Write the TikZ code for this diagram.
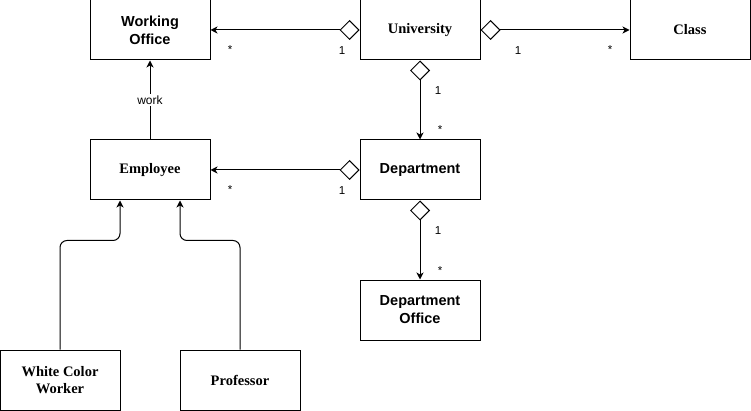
\documentclass[tikz,border=0pt]{standalone}
\usepackage{fontspec}
\setmainfont{Liberation Serif}
\setsansfont{Liberation Sans}
\usetikzlibrary{arrows.meta}

\begin{document}
\begin{tikzpicture}[x=1pt,y=1pt,yscale=-1,xscale=1,
    box/.style={draw,line width=1pt,minimum width=120pt,minimum height=60pt,inner sep=2pt,align=center},
    sansbox/.style={box,font=\sffamily\bfseries\fontsize{14.5}{18}\selectfont},
    serifbox/.style={box,font=\rmfamily\bfseries\fontsize{14.5}{17.5}\selectfont},
    mult/.style={anchor=base,inner sep=0pt,font=\sffamily\fontsize{11.5}{13}\selectfont},
    agg/.style={line width=1pt,{Diamond[open,length=20pt,width=20pt,line width=1pt]}-{Stealth[length=7pt,width=7pt,inset=2pt]}},
    gen/.style={line width=1pt,rounded corners=7pt,-{Stealth[length=7pt,width=7pt,inset=2pt]}}]
    \useasboundingbox (0,0) rectangle (751,411);

    %Classes
    \node [sansbox]  (office)   at (150,30)  {Working\\Office};
    \node [serifbox] (univ)     at (420,30)  {University};
    \node [serifbox] (class)    at (690,30)  {Class};
    \node [serifbox] (employee) at (150,170) {Employee};
    \node [sansbox]  (dept)     at (420,170) {Department};
    \node [sansbox]  (deptoff)  at (420,310) {Department\\Office};
    \node [serifbox] (worker)   at (60,380)  {White Color\\Worker};
    \node [serifbox] (prof)     at (240,380) {Professor};

    %Aggregations
    \draw [agg] (univ.west) -- (office.east);
    \draw [agg] (univ.east) -- (class.west);
    \draw [agg] (univ.south) -- (dept.north);
    \draw [agg] (dept.west) -- (employee.east);
    \draw [agg] (dept.south) -- (deptoff.north);

    %Association
    \draw [line width=1pt,-{Stealth[length=7pt,width=7pt,inset=2pt]}] (employee.north) -- node [fill=white,inner sep=2pt,font=\sffamily\fontsize{12}{14}\selectfont] (worklbl) {work} (office.south);

    %Generalizations
    \draw [gen] (worker.north) |- ([xshift=-30pt,yshift=40pt]employee.south) -- ([xshift=-30pt]employee.south);
    \draw [gen] (prof.north) |- ([xshift=30pt,yshift=40pt]employee.south) -- ([xshift=30pt]employee.south);

    % Text Node
    \node [mult] (m1) at (230,54) {*};
    \node [mult] (m2) at (342,55) {1};
    \node [mult] (m3) at (518,55) {1};
    \node [mult] (m4) at (610,54) {*};
    \node [mult] (m5) at (438,95) {1};
    \node [mult] (m6) at (440,134) {*};
    \node [mult] (m7) at (230,194) {*};
    \node [mult] (m8) at (342,195) {1};
    \node [mult] (m9) at (438,235) {1};
    \node [mult] (m10) at (440,274) {*};
\end{tikzpicture}
\end{document}
